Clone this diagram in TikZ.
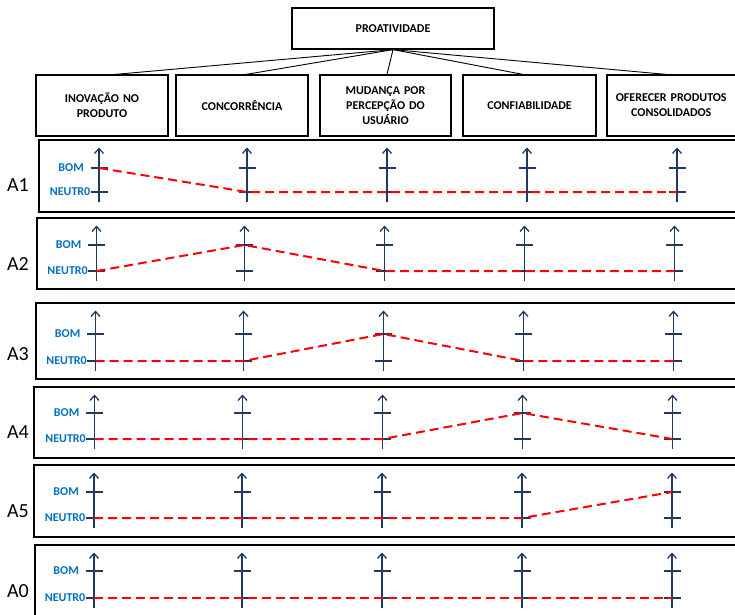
\documentclass[tikz,border=0pt]{standalone}
\usepackage{fontspec}
\setmainfont{Carlito}
\usetikzlibrary{arrows.meta}

\definecolor{axisnavy}{RGB}{31,56,100}
\definecolor{levelblue}{RGB}{0,112,192}
\definecolor{valred}{RGB}{255,0,0}

\tikzset{
  critbox/.style={draw=black, line width=1.2pt, align=center, inner sep=2pt,
    font=\fontsize{12}{15}\selectfont\bfseries},
  conn/.style={draw=black, line width=0.9pt},
  panel/.style={draw=black, line width=2.2pt},
  panellabel/.style={font=\fontsize{20}{22}\selectfont, inner sep=0pt},
  axisline/.style={draw=axisnavy, line width=1.4pt,
    -{Straight Barb[length=5pt,width=9pt,line width=1.3pt]}},
  tickline/.style={draw=axisnavy, line width=1.4pt},
  lvl/.style={text=levelblue, inner sep=0pt,
    font=\fontsize{12}{13}\selectfont\bfseries},
  valline/.style={draw=valred, line width=2pt, dash pattern=on 9pt off 5pt}
}

% One alternative panel: #1 name, #2 top, #3 bottom, #4 left edge,
% #5 y of BOM, #6 y of NEUTRO, #7 horizontal shift of the axes
\newcommand\drawpanel[7]{%
  \draw[panel] (#4,#2) rectangle (745,#3);
  \node[panellabel] (#1) at (18,#6-6.5) {#1};
  \foreach \cx [count=\k] in {94,242,382,522,672} {
    \draw[axisline] (\cx+#7,#6+10) -- (\cx+#7,#2+7.5);
    \draw[tickline] (\cx+#7-8.5,#5) -- (\cx+#7+8.5,#5);
    \draw[tickline] (\cx+#7-8.5,#6) -- (\cx+#7+8.5,#6);
    \coordinate (#1-\k-b) at (\cx+#7,#5);
    \coordinate (#1-\k-n) at (\cx+#7,#6);
  }
  \node[lvl, anchor=east] (#1-bom) at (94+#7-15,#5) {BOM};
  \node[lvl, anchor=east] (#1-neu) at (94+#7-8.5,#6) {NEUTR0};
}

\begin{document}
\begin{tikzpicture}[x=1pt, y=-1pt]
  \useasboundingbox (0,0) rectangle (735,614);

  % criteria hierarchy
  \node[critbox, minimum width=202pt, minimum height=41pt] (top) at (393,28.5) {PROATIVIDADE};
  \node[critbox, minimum width=132pt, minimum height=61pt, text width=126pt] (b1) at (102,105.5) {INOVAÇÃO NO\\PRODUTO};
  \node[critbox, minimum width=132pt, minimum height=61pt, text width=126pt] (b2) at (242,105.5) {CONCORRÊNCIA};
  \node[critbox, minimum width=131pt, minimum height=61pt, text width=125pt] (b3) at (385.5,105.5) {MUDANÇA POR\\PERCEPÇÃO DO\\USUÁRIO};
  \node[critbox, minimum width=133pt, minimum height=61pt, text width=127pt] (b4) at (529.5,105.5) {CONFIABILIDADE};
  \node[critbox, minimum width=128.5pt, minimum height=61pt, text width=124pt] (b5) at (671.25,105.5) {OFERECER PRODUTOS\\CONSOLIDADOS};

  \draw[conn] (top.south) -- ([xshift=13pt]b1.north);
  \draw[conn] (top.south) -- ([xshift=4pt]b2.north);
  \draw[conn] (top.south) -- ([xshift=1.5pt]b3.north);
  \draw[conn] (top.south) -- ([xshift=-6.5pt]b4.north);
  \draw[conn] (top.south) -- ([xshift=-5pt]b5.north);

  % alternatives
  \drawpanel{A1}{140}{212}{39}{168}{192}{5}
  \drawpanel{A2}{218}{289}{37}{245}{271}{2.5}
  \drawpanel{A3}{303}{379}{36}{334}{361}{1.5}
  \drawpanel{A4}{387}{458}{34}{413}{439}{0.5}
  \drawpanel{A5}{465}{537}{34}{492}{518}{0}
  \drawpanel{A0}{545}{625}{35}{571}{598}{0}

  % value profiles
  \draw[valline] (A1-1-b) -- (A1-2-n) -- (A1-3-n) -- (A1-4-n) -- (A1-5-n);
  \draw[valline] (A2-1-n) -- (A2-2-b) -- (A2-3-n) -- (A2-4-n) -- (A2-5-n);
  \draw[valline] (A3-1-n) -- (A3-2-n) -- (A3-3-b) -- (A3-4-n) -- (A3-5-n);
  \draw[valline] (A4-1-n) -- (A4-2-n) -- (A4-3-n) -- (A4-4-b) -- (A4-5-n);
  \draw[valline] (A5-1-n) -- (A5-2-n) -- (A5-3-n) -- (A5-4-n) -- (A5-5-b);
  \draw[valline] (A0-1-n) -- (A0-2-n) -- (A0-3-n) -- (A0-4-n) -- (A0-5-n);
\end{tikzpicture}
\end{document}
